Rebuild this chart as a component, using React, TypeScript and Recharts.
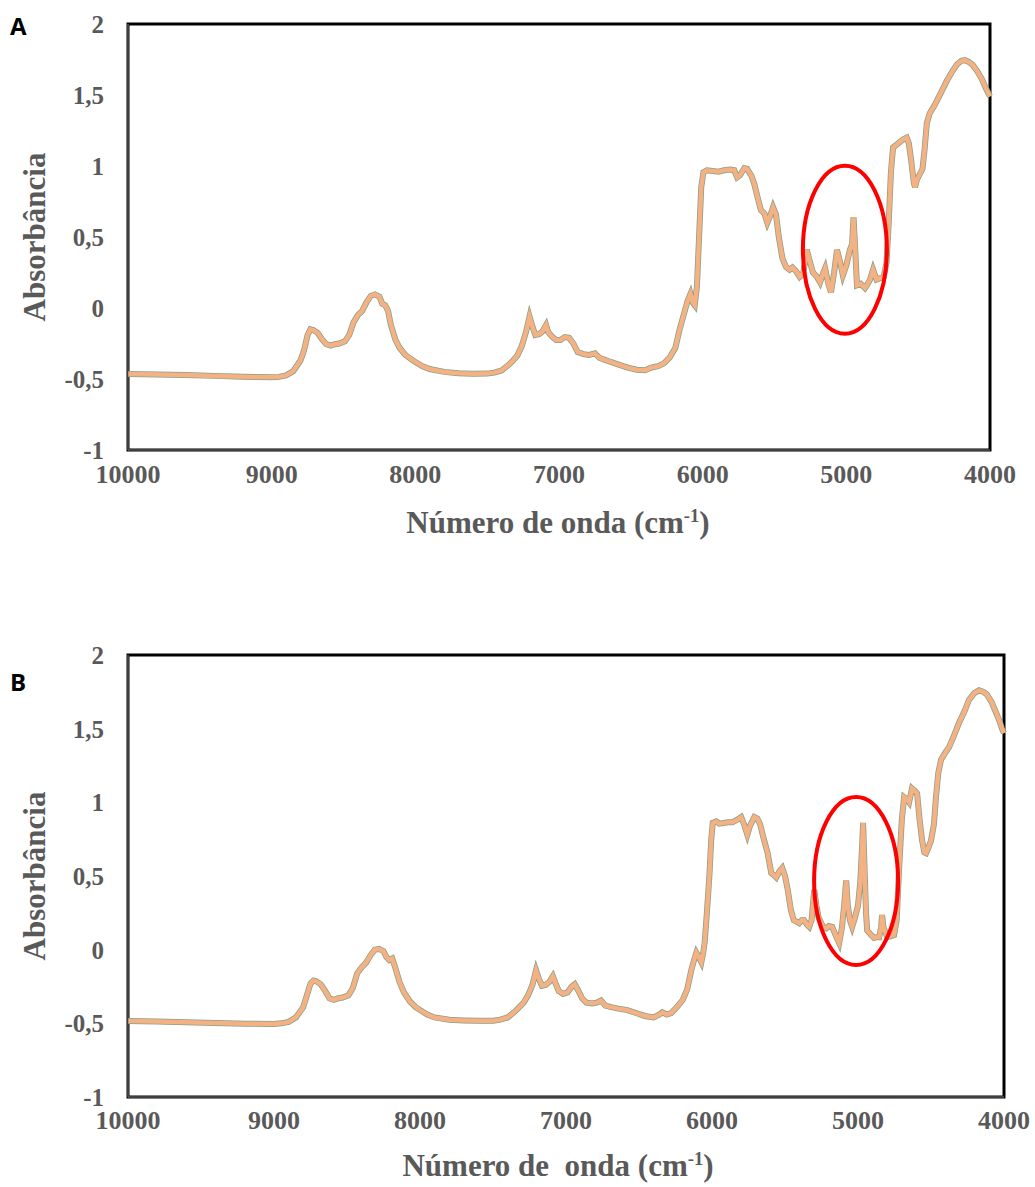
import React from 'react';
import { LineChart, Line, XAxis, YAxis, ReferenceArea, ReferenceDot } from 'recharts';

// Panel A spectrum (wavenumber cm-1 -> absorbance)
const wavenumbersA = [
  10000, 9800, 9600, 9400, 9200, 9000, 8950, 8900, 8850, 8800, 8775, 8750, 8730, 8710, 8680, 8650, 8620, 8590,
  8560, 8530, 8490, 8460, 8430, 8400, 8370, 8340, 8310, 8280, 8250, 8230, 8210, 8190, 8170, 8140, 8110, 8070,
  8030, 8000, 7950, 7900, 7800, 7700, 7600, 7500, 7450, 7400, 7350, 7320, 7290, 7260, 7230, 7205, 7185, 7165,
  7140, 7115, 7090, 7075, 7050, 7020, 6990, 6960, 6930, 6900, 6870, 6830, 6790, 6750, 6720, 6680, 6640, 6580,
  6520, 6460, 6400, 6370, 6340, 6310, 6270, 6230, 6190, 6160, 6130, 6105, 6085, 6070, 6055, 6040, 6025, 6010,
  5995, 5970, 5930, 5890, 5850, 5810, 5780, 5760, 5740, 5710, 5690, 5660, 5640, 5615, 5595, 5570, 5550, 5530,
  5510, 5490, 5470, 5445, 5420, 5395, 5375, 5350, 5325, 5300, 5275, 5255, 5232, 5205, 5183, 5160, 5148, 5125,
  5107, 5085, 5065, 5045, 5024, 5000, 4975, 4960, 4950, 4940, 4926, 4900, 4870, 4856, 4835, 4814, 4790, 4766,
  4740, 4720, 4705, 4690, 4675, 4650, 4627, 4600, 4580, 4565, 4550, 4530, 4522, 4510, 4490, 4470, 4455, 4440,
  4420, 4390, 4369, 4330, 4300, 4260, 4230, 4200, 4174, 4150, 4119, 4090, 4056, 4030, 4000,
];
const absorbanceA = [
  -0.465, -0.468, -0.472, -0.478, -0.485, -0.488, -0.485, -0.475, -0.445, -0.37, -0.3, -0.19, -0.15, -0.155, -0.175, -0.22, -0.255, -0.265,
  -0.255, -0.25, -0.235, -0.19, -0.1, -0.05, -0.02, 0.04, 0.085, 0.095, 0.08, 0.03, 0.02, -0.02, -0.12, -0.22, -0.28, -0.33,
  -0.36, -0.38, -0.41, -0.43, -0.45, -0.46, -0.463, -0.462, -0.455, -0.44, -0.4, -0.37, -0.335, -0.27, -0.17, -0.06, -0.13, -0.19,
  -0.185, -0.165, -0.12, -0.17, -0.2, -0.225, -0.225, -0.205, -0.21, -0.25, -0.31, -0.325, -0.33, -0.32, -0.35, -0.365, -0.38, -0.4,
  -0.42, -0.435, -0.438, -0.425, -0.415, -0.41, -0.39, -0.35, -0.28, -0.15, -0.04, 0.05, 0.1, 0.04, 0.02, 0.15, 0.5, 0.85,
  0.955, 0.97, 0.965, 0.96, 0.97, 0.975, 0.97, 0.92, 0.935, 0.985, 0.98, 0.93, 0.87, 0.77, 0.69, 0.665, 0.6, 0.65,
  0.71, 0.66, 0.5, 0.35, 0.29, 0.27, 0.285, 0.26, 0.22, 0.245, 0.41, 0.33, 0.25, 0.22, 0.18, 0.25, 0.28, 0.17,
  0.11, 0.25, 0.41, 0.33, 0.23, 0.3, 0.41, 0.45, 0.64, 0.45, 0.16, 0.17, 0.14, 0.16, 0.2, 0.27, 0.2, 0.21,
  0.22, 0.32, 0.6, 0.95, 1.13, 1.15, 1.17, 1.19, 1.2, 1.16, 1.05, 0.88, 0.85, 0.9, 0.94, 0.98, 1.12, 1.3,
  1.37, 1.42, 1.46, 1.54, 1.6, 1.67, 1.715, 1.74, 1.745, 1.735, 1.71, 1.67, 1.61, 1.55, 1.49,
];

// Panel B spectrum
const wavenumbersB = [
  10000, 9800, 9600, 9400, 9200, 9000, 8950, 8900, 8850, 8800, 8775, 8750, 8730, 8710, 8680, 8650, 8620, 8590,
  8560, 8530, 8490, 8460, 8430, 8400, 8370, 8340, 8310, 8280, 8250, 8230, 8210, 8190, 8170, 8140, 8110, 8070,
  8030, 8000, 7950, 7900, 7800, 7700, 7600, 7500, 7450, 7400, 7350, 7320, 7290, 7260, 7230, 7205, 7185, 7165,
  7140, 7115, 7090, 7075, 7050, 7020, 6990, 6960, 6940, 6920, 6890, 6860, 6820, 6790, 6760, 6730, 6690, 6640,
  6580, 6520, 6460, 6400, 6360, 6340, 6310, 6280, 6240, 6200, 6170, 6142, 6120, 6107, 6090, 6073, 6060, 6050,
  6035, 6018, 6005, 5995, 5970, 5950, 5920, 5890, 5860, 5830, 5800, 5780, 5758, 5740, 5710, 5690, 5670, 5645,
  5620, 5594, 5570, 5560, 5540, 5519, 5500, 5480, 5460, 5440, 5420, 5403, 5385, 5369, 5350, 5334, 5318, 5300,
  5285, 5270, 5252, 5235, 5218, 5200, 5177, 5150, 5129, 5110, 5095, 5081, 5070, 5055, 5040, 5020, 5000, 4985,
  4972, 4965, 4955, 4945, 4937, 4910, 4890, 4870, 4855, 4842, 4835, 4825, 4800, 4780, 4753, 4735, 4718, 4700,
  4684, 4665, 4650, 4630, 4612, 4595, 4580, 4561, 4545, 4534, 4515, 4500, 4480, 4466, 4450, 4431, 4400, 4376,
  4340, 4308, 4270, 4240, 4205, 4171, 4140, 4116, 4085, 4055, 4030, 4014, 4000,
];
const absorbanceB = [
  -0.485, -0.488, -0.492, -0.497, -0.502, -0.505, -0.5, -0.49, -0.46, -0.39, -0.31, -0.23, -0.21, -0.215, -0.235, -0.28, -0.33, -0.34,
  -0.33, -0.325, -0.31, -0.26, -0.16, -0.12, -0.09, -0.04, 0.0, 0.005, -0.01, -0.05, -0.07, -0.06, -0.12, -0.22, -0.29, -0.35,
  -0.39, -0.41, -0.44, -0.46, -0.475, -0.48, -0.483, -0.482, -0.475, -0.46, -0.42, -0.39, -0.36, -0.31, -0.24, -0.14, -0.2, -0.245,
  -0.24, -0.22, -0.18, -0.22, -0.28, -0.3, -0.29, -0.25, -0.235, -0.27, -0.33, -0.36, -0.365, -0.36, -0.345, -0.38, -0.39, -0.4,
  -0.41, -0.43, -0.45, -0.46, -0.44, -0.425, -0.44, -0.43, -0.39, -0.34, -0.27, -0.14, -0.06, -0.02, -0.05, -0.085, -0.02, 0.05,
  0.25, 0.5, 0.75, 0.86, 0.87, 0.855, 0.86, 0.865, 0.865, 0.88, 0.9, 0.85, 0.78, 0.84, 0.9, 0.89, 0.85, 0.75,
  0.66, 0.52, 0.5, 0.49, 0.53, 0.555, 0.5, 0.4, 0.27, 0.2, 0.19, 0.18, 0.2, 0.2, 0.17, 0.155, 0.2, 0.405,
  0.3, 0.22, 0.18, 0.15, 0.145, 0.16, 0.155, 0.09, 0.045, 0.15, 0.3, 0.47, 0.3, 0.2, 0.155, 0.22, 0.3, 0.45,
  0.7, 0.86, 0.55, 0.25, 0.13, 0.1, 0.08, 0.085, 0.085, 0.15, 0.235, 0.15, 0.085, 0.09, 0.1, 0.2, 0.56, 0.88,
  1.035, 1.02, 1.0, 1.095, 1.08, 1.06, 0.9, 0.74, 0.66, 0.655, 0.7, 0.74, 0.85, 1.035, 1.2, 1.29, 1.34, 1.375,
  1.46, 1.54, 1.62, 1.695, 1.74, 1.76, 1.75, 1.73, 1.68, 1.61, 1.55, 1.5, 1.47,
];

const xTicks = [10000, 9000, 8000, 7000, 6000, 5000, 4000];
const yTicks = [-1, -0.5, 0, 0.5, 1, 1.5, 2];

const SERIF = '"Liberation Serif", "Times New Roman", serif';
const GRAY = '#595959';

const fmtY = (v: number) => String(v).replace('.', ',');

const Ellipse = (props: any) => (
  <ellipse cx={props.cx} cy={props.cy} rx={42} ry={84} fill="none" stroke="#FF0000" strokeWidth={4} />
);

interface PanelProps {
  xs: number[];
  ys: number[];
  width: number;
  height: number;
  margin: { top: number; right: number; bottom: number; left: number };
  tickGap: number;
  mark: { x: number; y: number };
}

const Panel = ({ xs, ys, width, height, margin, tickGap, mark }: PanelProps) => {
  const data = xs.map((w, i) => ({ w, a: ys[i] }));
  return (
    <LineChart width={width} height={height} data={data} margin={margin}>
      <XAxis
        dataKey="w"
        type="number"
        domain={[4000, 10000]}
        ticks={xTicks}
        reversed
        height={40}
        tickLine={false}
        tickSize={0}
        tickMargin={tickGap}
        axisLine={{ stroke: '#7f7f7f', strokeWidth: 1 }}
        tick={{ fontSize: 26, fontWeight: 'bold', fill: GRAY, fontFamily: SERIF }}
        interval={0}
      />
      <YAxis
        type="number"
        domain={[-1, 2]}
        ticks={yTicks}
        width={128}
        tickLine={false}
        tickSize={0}
        tickMargin={24}
        axisLine={{ stroke: '#7f7f7f', strokeWidth: 1 }}
        tickFormatter={fmtY}
        tick={{ fontSize: 25, fontWeight: 'bold', fill: GRAY, fontFamily: SERIF }}
        interval={0}
      />
      <ReferenceArea x1={10000} x2={4000} y1={-1} y2={2} fill="none" stroke="#000" strokeWidth={3} />
      <Line type="linear" dataKey="a" stroke="#8a9f86" strokeWidth={6} dot={false} isAnimationActive={false} />
      <Line type="linear" dataKey="a" stroke="#F4B183" strokeWidth={4.5} dot={false} isAnimationActive={false} />
      <ReferenceDot x={mark.x} y={mark.y} shape={Ellipse} />
    </LineChart>
  );
};

const yTitleStyle = (cy: number): React.CSSProperties => ({
  position: 'absolute',
  left: 35 - 150,
  top: cy - 18,
  width: 300,
  height: 36,
  lineHeight: '36px',
  textAlign: 'center',
  transform: 'rotate(-90deg)',
  fontFamily: SERIF,
  fontWeight: 'bold',
  fontSize: 31,
  color: GRAY,
});

const xTitleStyle = (cy: number): React.CSSProperties => ({
  position: 'absolute',
  left: 258,
  top: cy - 18,
  width: 600,
  height: 36,
  lineHeight: '36px',
  textAlign: 'center',
  whiteSpace: 'pre',
  fontFamily: SERIF,
  fontWeight: 'bold',
  fontSize: 31,
  color: GRAY,
});

const letterStyle = (top: number): React.CSSProperties => ({
  position: 'absolute',
  left: 10,
  top,
  fontFamily: '"Open Sans", "Liberation Sans", Arial, sans-serif',
  fontWeight: 'bold',
  fontSize: 24,
  color: '#000',
  lineHeight: '28px',
});

const sup: React.CSSProperties = { fontSize: '60%', verticalAlign: 'super', lineHeight: 0 };

export default function App() {
  return (
    <div style={{ position: 'absolute', left: 0, top: 0, width: 1035, height: 1187, background: '#fff' }}>
      <div style={{ position: 'absolute', left: 0, top: 0 }}>
        <Panel
          xs={wavenumbersA}
          ys={absorbanceA}
          width={1035}
          height={540}
          margin={{ top: 24, right: 45, bottom: 50, left: 0 }}
          tickGap={15}
          mark={{ x: 5010, y: 0.41 }}
        />
      </div>
      <div style={{ position: 'absolute', left: 0, top: 630 }}>
        <Panel
          xs={wavenumbersB}
          ys={absorbanceB}
          width={1035}
          height={530}
          margin={{ top: 25, right: 31, bottom: 23, left: 0 }}
          tickGap={14}
          mark={{ x: 5013, y: 0.466 }}
        />
      </div>
      <div style={letterStyle(12)}>A</div>
      <div style={letterStyle(668)}>B</div>
      <div style={yTitleStyle(237)}>Absorbância</div>
      <div style={yTitleStyle(876)}>Absorbância</div>
      <div style={xTitleStyle(523)}>
        Número de onda (cm<span style={sup}>-1</span>)
      </div>
      <div style={xTitleStyle(1166)}>
        Número de  onda (cm<span style={sup}>-1</span>)
      </div>
    </div>
  );
}
